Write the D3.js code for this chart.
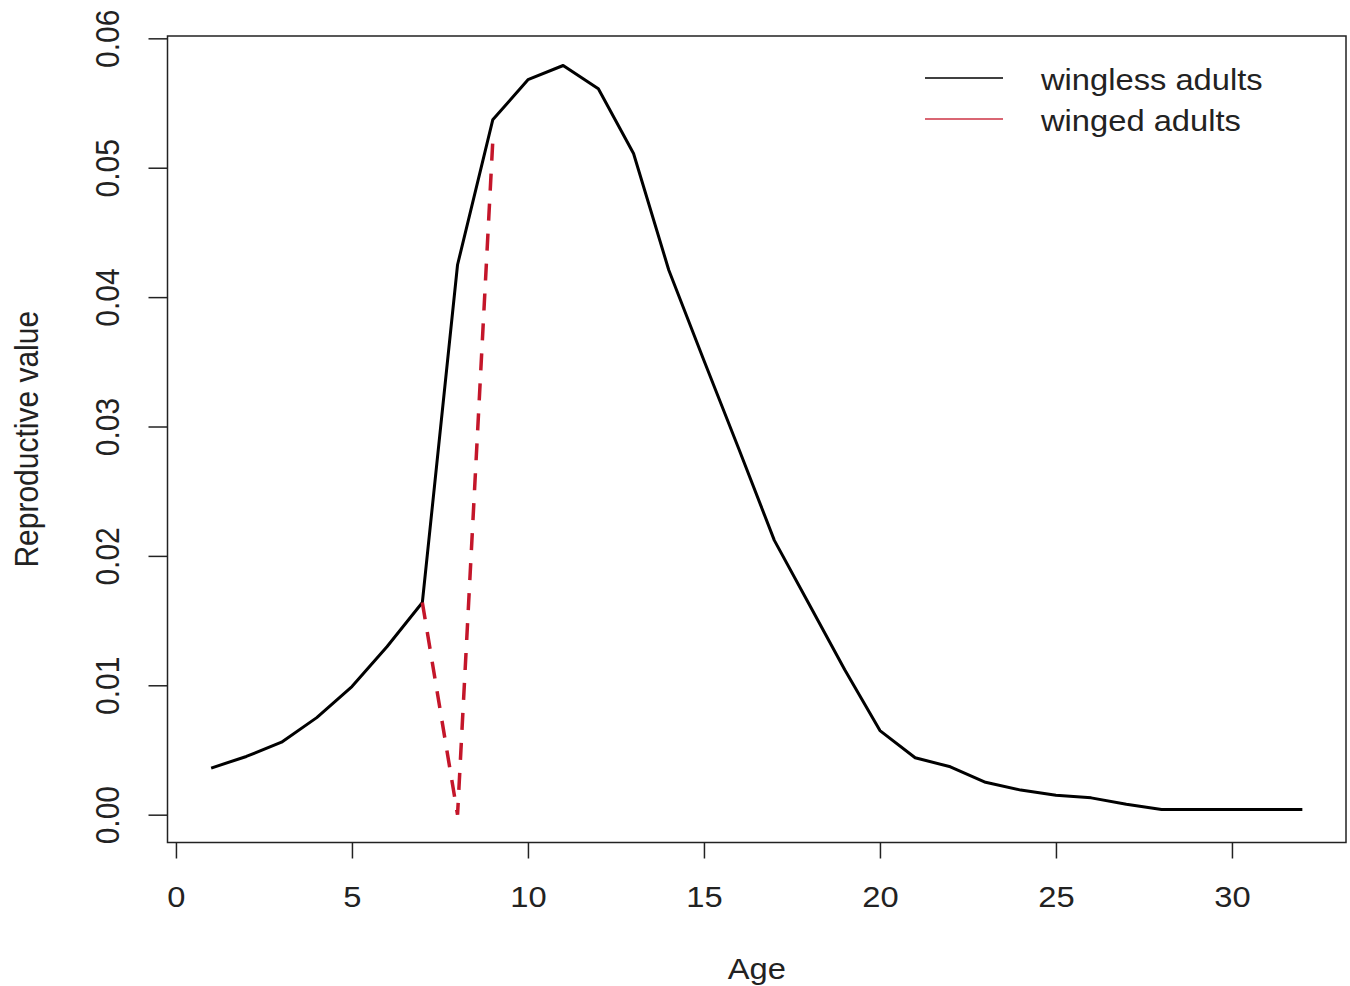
<!DOCTYPE html>
<html>
<head>
<meta charset="utf-8">
<script src="https://cdn.jsdelivr.net/npm/d3@7"></script>
<style>
  body { margin: 0; background: #fff; }
  text { font-family: "Liberation Sans", Arial, sans-serif; fill: #222; }
</style>
</head>
<body>
<svg id="chart" width="1350" height="986"></svg>
<script>
// --- data ---
const ages = [1, 2, 3, 4, 5, 6, 7, 8, 9, 10, 11, 12, 13, 14, 15, 16,
              17, 18, 19, 20, 21, 22, 23, 24, 25, 26, 27, 28, 29, 30, 31, 32];
const wingless = [0.0036, 0.0045, 0.0056, 0.0075, 0.0099, 0.0130, 0.0164, 0.0425,
                  0.0537, 0.0568, 0.0579, 0.0561, 0.0511, 0.0421, 0.0351, 0.0282,
                  0.0212, 0.0162, 0.0112, 0.0065, 0.0044, 0.0037, 0.0025, 0.0019,
                  0.0015, 0.0013, 0.0008, 0.0004, 0.0004, 0.0004, 0.0004, 0.0004];
const wingedAges = [7, 8, 9];
const winged = [0.0164, 0.0, 0.0520];

const xTicks = [0, 5, 10, 15, 20, 25, 30];
const yTicks = [0, 0.01, 0.02, 0.03, 0.04, 0.05, 0.06];
const legendLabels = ["wingless adults", "winged adults"];
const legendColors = ["#000", "#cc3344"];

const svg = d3.select("#chart");

// plot region (R style, 4% padding around the data range)
const box = { left: 167.5, right: 1346, top: 36, bottom: 842.5 };
const x = d3.scaleLinear().domain([-0.24, 33.24]).range([box.left, box.right]);
const y = d3.scaleLinear().domain([-0.00215, 0.06018]).range([box.bottom, box.top]);

const fontSize = "30px";
const stretch = "scale(1.09,1)"; // the reference glyphs are a little wide

// x axis
const xAxis = svg.append("g")
    .attr("transform", `translate(0,${box.bottom})`)
    .call(d3.axisBottom(x).tickValues(xTicks).tickSize(16).tickFormat(d3.format("d")));
xAxis.select(".domain").remove();
xAxis.selectAll("line").attr("stroke", "#222").attr("stroke-width", 1.5);
xAxis.selectAll("text")
    .attr("y", 64.5).attr("dy", null)
    .attr("transform", stretch)
    .style("font-size", fontSize);

// y axis
const yAxis = svg.append("g")
    .attr("transform", `translate(${box.left},0)`)
    .call(d3.axisLeft(y).tickValues(yTicks).tickSize(19).tickFormat(d3.format(".2f")));
yAxis.select(".domain").remove();
yAxis.selectAll("line").attr("stroke", "#222").attr("stroke-width", 1.5);
yAxis.selectAll("text")
    .attr("x", null).attr("dy", null)
    .attr("text-anchor", "middle")
    .attr("transform", `translate(-49,0) ${stretch} rotate(-90)`)
    .style("font-size", fontSize);

// frame
svg.append("rect")
    .attr("x", box.left).attr("y", box.top)
    .attr("width", box.right - box.left).attr("height", box.bottom - box.top)
    .attr("fill", "none").attr("stroke", "#222").attr("stroke-width", 1.5);

// axis titles
svg.append("text")
    .attr("transform", `translate(${(box.left + box.right) / 2},979) ${stretch}`)
    .attr("text-anchor", "middle")
    .style("font-size", fontSize)
    .text("Age");

svg.append("text")
    .attr("transform", `translate(38,${(box.top + box.bottom) / 2}) ${stretch} rotate(-90)`)
    .attr("text-anchor", "middle")
    .style("font-size", fontSize)
    .text("Reproductive value");

// lines
const line = d3.line().x(d => x(d[0])).y(d => y(d[1]));

svg.append("path")
    .datum(d3.zip(ages, wingless))
    .attr("d", line)
    .attr("fill", "none")
    .attr("stroke", "#000")
    .attr("stroke-width", 3)
    .attr("stroke-linejoin", "round");

svg.append("path")
    .datum(d3.zip(wingedAges, winged))
    .attr("d", line)
    .attr("fill", "none")
    .attr("stroke", "#c4162a")
    .attr("stroke-width", 3.5)
    .attr("stroke-dasharray", "17,13");

// legend
const legend = svg.append("g");
legendLabels.forEach((label, i) => {
    const ly = 78 + i * 41;
    legend.append("line")
        .attr("x1", 925).attr("x2", 1003)
        .attr("y1", ly).attr("y2", ly)
        .attr("stroke", legendColors[i])
        .attr("stroke-width", 1.5);
    legend.append("text")
        .attr("transform", `translate(1041,${ly + 12}) ${stretch}`)
        .style("font-size", fontSize)
        .text(label);
});
</script>
</body>
</html>
